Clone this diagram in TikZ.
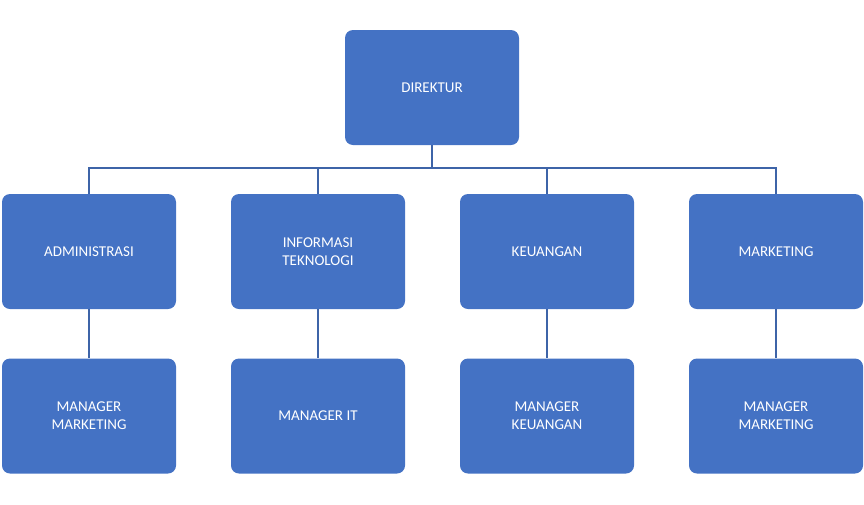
\documentclass[tikz,border=0pt]{standalone}
\usepackage{fontspec}
\setmainfont{Carlito}
\definecolor{boxblue}{HTML}{4472C4}
\definecolor{linec}{HTML}{3E64A8}
\begin{document}
\begin{tikzpicture}[x=1pt,y=-1pt,
  box/.style={fill=boxblue,rounded corners=8pt,minimum width=174pt,minimum height=115pt,text=white,align=center,font=\fontsize{15}{18}\selectfont,inner sep=0pt},
  conn/.style={draw=linec,line width=1.2pt}]
\useasboundingbox (0,0) rectangle (864,504);
\node[box] (d) at (432,87.5) {DIREKTUR};
\node[box] (a) at (89,251.5) {ADMINISTRASI};
\node[box] (i) at (318,251.5) {INFORMASI\\TEKNOLOGI};
\node[box] (k) at (547,251.5) {KEUANGAN};
\node[box] (m) at (776,251.5) {MARKETING};
\node[box] (a2) at (89,416) {MANAGER\\MARKETING};
\node[box] (i2) at (318,416) {MANAGER IT};
\node[box] (k2) at (547,416) {MANAGER\\KEUANGAN};
\node[box] (m2) at (776,416) {MANAGER\\MARKETING};
\coordinate (bus) at (432,168);
\foreach \n in {a,i,k,m}{
  \draw[conn] (d.south) -- (bus) -| (\n.north);
  \draw[conn] (\n.south) -- (\n2.north);
}
\end{tikzpicture}
\end{document}
